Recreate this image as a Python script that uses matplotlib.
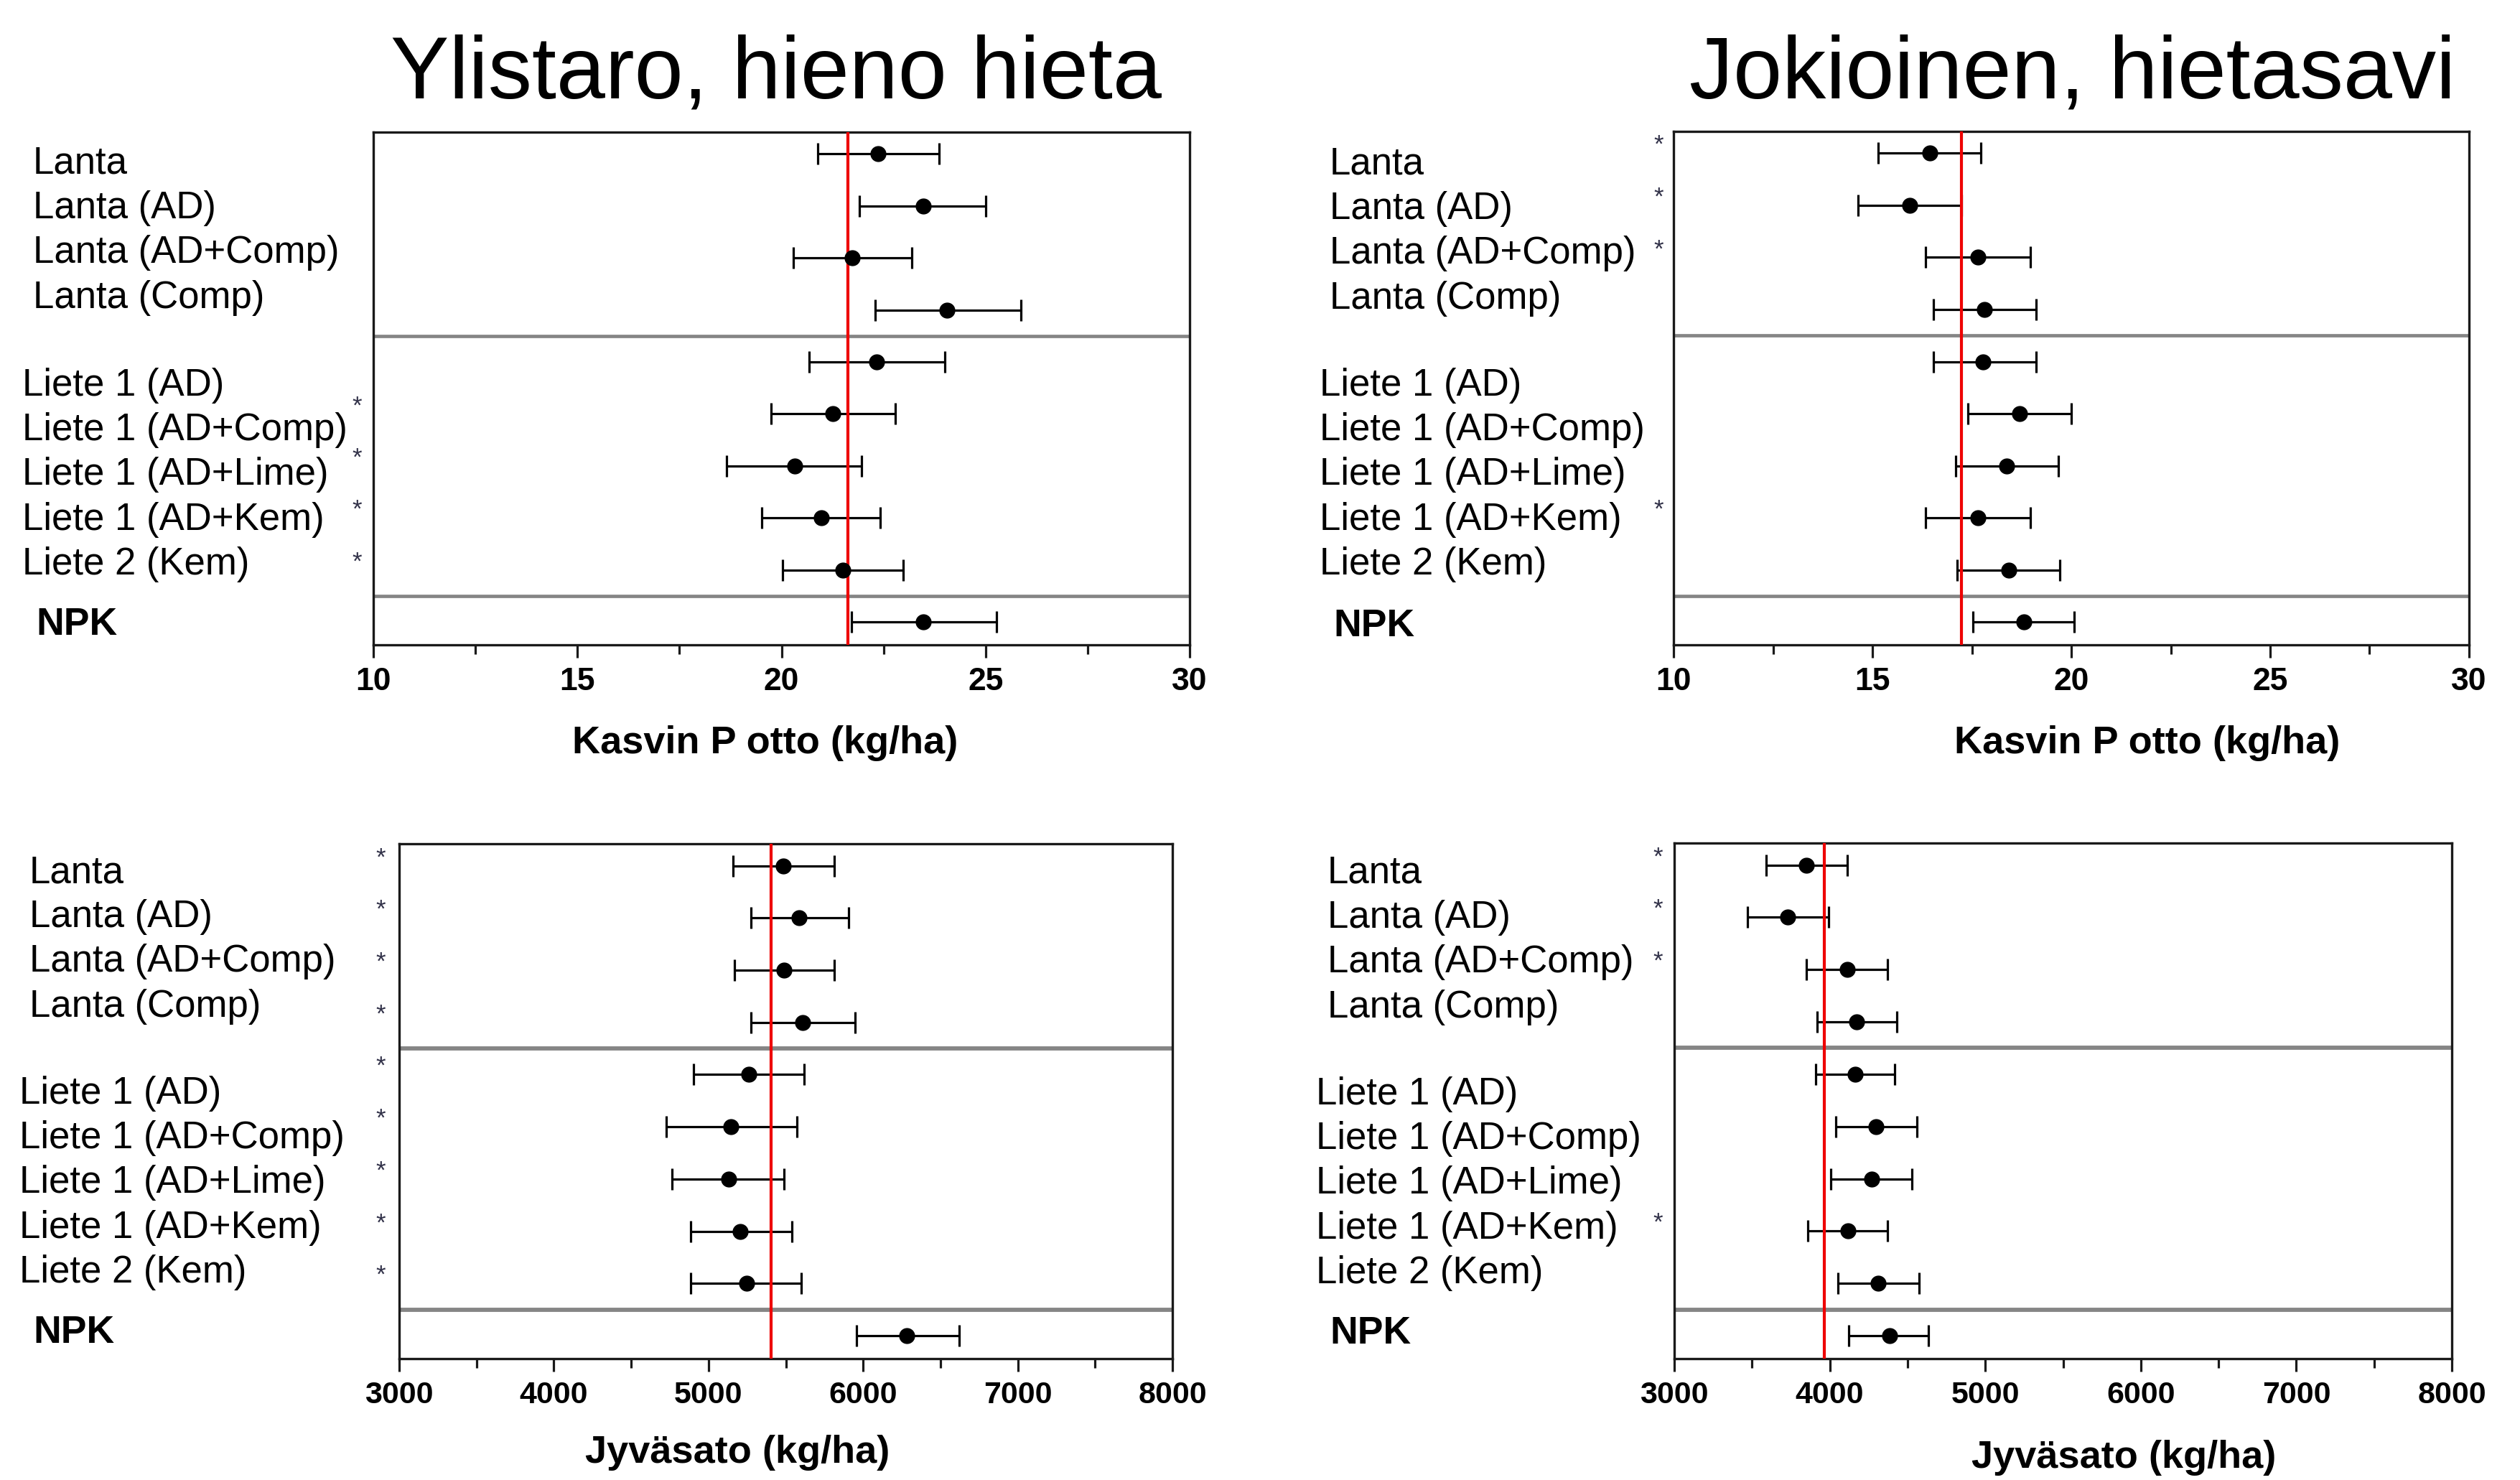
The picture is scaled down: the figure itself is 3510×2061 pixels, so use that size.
import matplotlib
matplotlib.use('Agg')
import matplotlib.pyplot as plt
from matplotlib.ticker import MultipleLocator

plt.rcParams['font.family'] = ['Liberation Sans', 'DejaVu Sans']

# Treatments, top to bottom
treatments = ['Lanta', 'Lanta (AD)', 'Lanta (AD+Comp)', 'Lanta (Comp)',
              'Liete 1 (AD)', 'Liete 1 (AD+Comp)', 'Liete 1 (AD+Lime)',
              'Liete 1 (AD+Kem)', 'Liete 2 (Kem)', 'NPK']

# Ylistaro, hieno hieta - plant P uptake (kg/ha)
ylis_p_mean = [22.37, 23.47, 21.74, 24.05, 22.33, 21.26, 20.32, 20.97, 21.51, 23.47]
ylis_p_low = [20.88, 21.91, 20.29, 22.29, 20.67, 19.75, 18.66, 19.52, 20.02, 21.72]
ylis_p_high = [23.86, 25.00, 23.19, 25.86, 24.01, 22.79, 21.97, 22.42, 22.98, 25.27]
ylis_p_ref = 21.62
ylis_p_sig = [0, 0, 0, 0, 0, 1, 1, 1, 1, 0]

# Jokioinen, hietasavi - plant P uptake (kg/ha)
jok_p_mean = [16.44, 15.93, 17.66, 17.81, 17.78, 18.70, 18.37, 17.66, 18.43, 18.80]
jok_p_low = [15.14, 14.63, 16.34, 16.54, 16.54, 17.40, 17.09, 16.34, 17.13, 17.52]
jok_p_high = [17.72, 17.24, 18.98, 19.11, 19.11, 20.00, 19.67, 18.98, 19.72, 20.08]
jok_p_ref = 17.24
jok_p_sig = [1, 1, 1, 0, 0, 0, 0, 1, 0, 0]

# Ylistaro - grain yield (kg/ha)
ylis_y_mean = [5482, 5588, 5487, 5608, 5261, 5145, 5130, 5205, 5246, 6283]
ylis_y_low = [5160, 5276, 5170, 5276, 4903, 4728, 4763, 4883, 4883, 5956]
ylis_y_high = [5815, 5905, 5815, 5946, 5618, 5573, 5487, 5538, 5598, 6621]
ylis_y_ref = 5407
ylis_y_sig = [1, 1, 1, 1, 1, 1, 1, 1, 1, 0]

# Jokioinen - grain yield (kg/ha)
jok_y_mean = [3850, 3729, 4112, 4172, 4162, 4298, 4268, 4117, 4313, 4383]
jok_y_low = [3589, 3473, 3850, 3920, 3910, 4041, 4006, 3860, 4051, 4122]
jok_y_high = [4112, 3991, 4373, 4429, 4419, 4560, 4529, 4373, 4575, 4635]
jok_y_ref = 3966
jok_y_sig = [1, 1, 1, 0, 0, 0, 0, 1, 0, 0]

titles = ['Ylistaro, hieno hieta', 'Jokioinen, hietasavi']
xlabel_p = 'Kasvin P otto (kg/ha)'
xlabel_y = 'Jyväsato (kg/ha)'

W, H = 3510, 2061
fig = plt.figure(figsize=(W / 100, H / 100), dpi=100)


def fx(px):
    return px / W


def fy(py):
    return 1 - py / H


def draw_panel(box, mean, low, high, ref, sig, xlim, major, minor,
               lab_x, lab_y, star_dx, tick_fs, div_lw):
    left, top, right, bottom = box
    ax = fig.add_axes([fx(left), fy(bottom), fx(right - left), (bottom - top) / H])
    rows = list(range(len(treatments)))
    xerr = [[m - lo for m, lo in zip(mean, low)], [hi - m for m, hi in zip(mean, high)]]
    ax.errorbar(mean, rows, xerr=xerr, fmt='none', ecolor='black',
                elinewidth=2.3, capsize=11, capthick=2.3, zorder=2)
    ax.axvline(ref, color='#ee0000', lw=3.0, zorder=3)
    ax.plot(mean, rows, 'o', color='black', ms=15, zorder=4)
    for yy in (3.5, 8.5):
        ax.axhline(yy, color='#858585', lw=div_lw, zorder=1)

    ax.set_xlim(*xlim)
    ax.set_ylim(9.44, -0.42)
    ax.set_yticks([])
    ax.xaxis.set_major_locator(MultipleLocator(major))
    ax.xaxis.set_minor_locator(MultipleLocator(minor))
    ax.tick_params(axis='x', which='major', direction='out', length=13, width=2.3,
                   color='#1a1a1a', pad=9, labelsize=tick_fs)
    ax.tick_params(axis='x', which='minor', direction='out', length=9.5, width=2.3,
                   color='#1a1a1a')
    for lbl in ax.get_xticklabels():
        lbl.set_fontweight('bold')
    for sp in ax.spines.values():
        sp.set_color('#1a1a1a')
        sp.set_linewidth(2.4)

    # significance stars just left of the box
    sx = star_dx / (right - left)
    for i, s in enumerate(sig):
        if s:
            ax.text(sx, rows[i] - 0.15, '*', transform=ax.get_yaxis_transform(),
                    ha='center', va='center', fontsize=25, color='#33334a',
                    clip_on=False)

    # treatment labels (own spacing, as in the original)
    x_lanta, x_liete, x_npk = lab_x
    y_lanta, y_liete, y_npk = lab_y
    step = 62.2
    for i, name in enumerate(treatments):
        if i < 4:
            fig.text(fx(x_lanta), fy(y_lanta + i * step), name, fontsize=38,
                     ha='left', va='baseline')
        elif i < 9:
            fig.text(fx(x_liete), fy(y_liete + (i - 4) * step), name, fontsize=38,
                     ha='left', va='baseline')
        else:
            fig.text(fx(x_npk), fy(y_npk), name, fontsize=38.5, fontweight='bold',
                     ha='left', va='baseline')
    return ax


draw_panel((520, 184, 1657, 898), ylis_p_mean, ylis_p_low, ylis_p_high, ylis_p_ref,
           ylis_p_sig, (10, 30), 5, 2.5, (46, 31, 50), (242, 551, 884), -23, 32, 3.4)
draw_panel((2331, 183, 3439, 898), jok_p_mean, jok_p_low, jok_p_high, jok_p_ref,
           jok_p_sig, (10, 30), 5, 2.5, (1852, 1838, 1857), (243, 551, 886), -21, 32, 3.4)
draw_panel((556, 1175, 1633, 1892), ylis_y_mean, ylis_y_low, ylis_y_high, ylis_y_ref,
           ylis_y_sig, (3000, 8000), 1000, 500, (41, 27, 46), (1229, 1537, 1870), -26, 31, 4.2)
draw_panel((2332, 1174, 3415, 1892), jok_y_mean, jok_y_low, jok_y_high, jok_y_ref,
           jok_y_sig, (3000, 8000), 1000, 500, (1849, 1833, 1852), (1230, 1538, 1871), -23, 31, 4.2)

# titles
fig.text(fx(1081), fy(136), titles[0], fontsize=88, ha='center', va='baseline')
fig.text(fx(2887), fy(136), titles[1], fontsize=88, ha='center', va='baseline')

# axis titles
fig.text(fx(1066), fy(1049), xlabel_p, fontsize=39, fontweight='bold', ha='center', va='baseline')
fig.text(fx(2991), fy(1049), xlabel_p, fontsize=39, fontweight='bold', ha='center', va='baseline')
fig.text(fx(1027), fy(2037), xlabel_y, fontsize=39, fontweight='bold', ha='center', va='baseline')
fig.text(fx(2958), fy(2044), xlabel_y, fontsize=39, fontweight='bold', ha='center', va='baseline')

fig.savefig('out.png', dpi=100, facecolor='white')
